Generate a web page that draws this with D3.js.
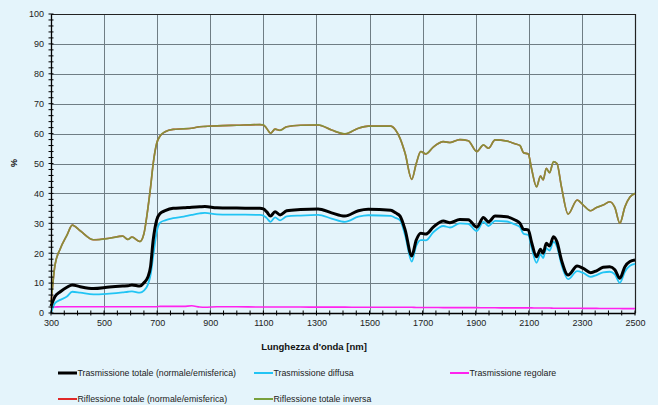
<!DOCTYPE html>
<html>
<head>
<meta charset="utf-8">
<script src="https://cdn.jsdelivr.net/npm/d3@7/dist/d3.min.js"></script>
<style>
  html, body { margin: 0; padding: 0; background: #e4f4fb; }
  svg { display: block; font-family: "Liberation Sans", Arial, sans-serif; }
</style>
</head>
<body>
<svg id="chart" width="658" height="405"></svg>
<script>
// Wavelength sampling points (nm)
const wavelengths = [300, 315, 335, 360, 380, 410, 460, 520, 570, 590, 605, 635, 650, 665, 675, 685, 698, 711, 730, 760, 800, 830, 860, 880, 925, 1000, 1087, 1100, 1112, 1127, 1144, 1163, 1188, 1240, 1306, 1357, 1407, 1458, 1495, 1580, 1598, 1615, 1634, 1659, 1676, 1693, 1712, 1740, 1778, 1803, 1840, 1872, 1904, 1929, 1948, 1973, 2017, 2048, 2067, 2080, 2098, 2110, 2129, 2144, 2154, 2166, 2178, 2193, 2206, 2223, 2248, 2282, 2305, 2333, 2355, 2380, 2405, 2424, 2443, 2462, 2481, 2500];

// Trasmissione totale (normale/emisferica), %
const trasmTotale = [2.3, 5.5, 7.1, 8.6, 9.4, 8.8, 8.2, 8.7, 9.0, 9.1, 9.4, 9.0, 10.1, 12, 15.5, 24.4, 31.1, 33.3, 34.2, 35, 35.2, 35.4, 35.5, 35.6, 35.2, 35.1, 35, 34.8, 33.9, 32.4, 33.9, 32.8, 34.2, 34.6, 34.8, 33.5, 32.4, 34.2, 34.7, 34.4, 33.5, 32.4, 27.8, 19.1, 24.4, 26.7, 26.4, 28.7, 30.8, 30.2, 31.3, 31.2, 28.7, 31.9, 30.5, 32.4, 32.2, 31.1, 30, 28, 27.8, 23.8, 18.8, 21.3, 20, 23.3, 22.4, 25.5, 23.8, 17.7, 12.7, 15.7, 14.9, 13.5, 14.1, 15.3, 15.5, 14.5, 11.6, 15.5, 17.2, 17.7];

// Trasmissione diffusa, %
const trasmDiffusa = [0, 3.3, 4.4, 5.5, 7.1, 6.8, 6.2, 6.5, 6.9, 7.1, 7.2, 6.8, 7.5, 9.5, 12.7, 19, 27, 30.2, 31, 31.7, 32.2, 32.8, 33.3, 33.5, 33, 32.9, 32.8, 32.6, 31.8, 30.5, 32, 31, 32.3, 32.6, 32.8, 31.6, 30.5, 32.2, 32.7, 32.5, 31.8, 31, 26, 17.2, 22.5, 24.4, 24.3, 27, 29.1, 28.6, 30, 29.8, 27.4, 30.5, 29.1, 30.8, 30.6, 29.6, 28.7, 26.5, 26.1, 22, 16.8, 19.6, 18.4, 21.7, 20.9, 23.8, 22.2, 16.2, 11.3, 14, 13.4, 12.1, 12.7, 13.6, 13.8, 12.9, 10.1, 13.8, 15.8, 16.4];

// Trasmissione regolare, %
const trasmRegolare = [2.0, 2.0, 2.1, 2.1, 2.1, 2.1, 2.1, 2.1, 2.1, 2.1, 2.1, 2.1, 2.1, 2.1, 2.1, 2.1, 2.1, 2.2, 2.2, 2.2, 2.2, 2.4, 2.0, 1.9, 2.1, 2.1, 2.0, 2.0, 2.0, 2.0, 2.0, 2.0, 2.0, 2.0, 1.95, 1.95, 1.95, 1.9, 1.9, 1.9, 1.9, 1.9, 1.9, 1.9, 1.85, 1.85, 1.85, 1.85, 1.8, 1.8, 1.8, 1.8, 1.8, 1.75, 1.75, 1.75, 1.7, 1.7, 1.7, 1.7, 1.7, 1.7, 1.65, 1.65, 1.65, 1.65, 1.65, 1.6, 1.6, 1.6, 1.6, 1.6, 1.55, 1.55, 1.55, 1.5, 1.5, 1.5, 1.5, 1.45, 1.45, 1.45];

// Riflessione totale (normale/emisferica), %
const riflTotale = [3, 16, 21.5, 26, 29.4, 27.5, 24.5, 25, 25.7, 24.6, 25.4, 23.9, 26.5, 35, 42, 50, 56.7, 59.2, 60.6, 61.4, 61.6, 61.8, 62.3, 62.4, 62.6, 62.8, 63, 62.9, 61.8, 60.1, 61.5, 61.1, 62.3, 62.8, 62.9, 61.2, 59.9, 61.8, 62.5, 62.5, 61.2, 58.4, 53.4, 44.7, 50, 54, 53.2, 55.5, 57.3, 57, 58, 57.6, 54, 56.2, 55.1, 57.9, 57.5, 56.6, 56, 53.6, 53.2, 48.4, 42.2, 45.8, 44.5, 48.4, 46.9, 50.6, 50, 42.2, 33.1, 37.8, 36.1, 34.2, 35.3, 36.1, 37.2, 35.3, 30, 35.5, 38.8, 40];

// Riflessione totale inversa, %
const riflInversa = [3, 16, 21.5, 26, 29.4, 27.5, 24.5, 25, 25.7, 24.6, 25.4, 23.9, 26.5, 35, 42, 50, 56.7, 59.2, 60.6, 61.4, 61.6, 61.8, 62.3, 62.4, 62.6, 62.8, 63, 62.9, 61.8, 60.1, 61.5, 61.1, 62.3, 62.8, 62.9, 61.2, 59.9, 61.8, 62.5, 62.5, 61.2, 58.4, 53.4, 44.7, 50, 54, 53.2, 55.5, 57.3, 57, 58, 57.6, 54, 56.2, 55.1, 57.9, 57.5, 56.6, 56, 53.6, 53.2, 48.4, 42.2, 45.8, 44.5, 48.4, 46.9, 50.6, 50, 42.2, 33.1, 37.8, 36.1, 34.2, 35.3, 36.1, 37.2, 35.3, 30, 35.5, 38.8, 40];

const xTickValues = [300, 500, 700, 900, 1100, 1300, 1500, 1700, 1900, 2100, 2300, 2500];
const yTickValues = [0, 10, 20, 30, 40, 50, 60, 70, 80, 90, 100];

const seriesNames = ["Trasmissione totale (normale/emisferica)", "Trasmissione diffusa", "Trasmissione regolare", "Riflessione totale (normale/emisferica)", "Riflessione totale inversa"];

const series = [
  { name: seriesNames[2], values: trasmRegolare, color: "#ff22ee", width: 1.6, opacity: 1 },
  { name: seriesNames[1], values: trasmDiffusa, color: "#22c4f4", width: 1.8, opacity: 1 },
  { name: seriesNames[0], values: trasmTotale, color: "#000000", width: 3, opacity: 1 },
  { name: seriesNames[3], values: riflTotale, color: "#e02828", width: 1.6, opacity: 1 },
  { name: seriesNames[4], values: riflInversa, color: "#78a03c", width: 1.7, opacity: 0.86 }
];

const svg = d3.select("#chart");
const margin = { left: 51, right: 23, top: 14, bottom: 92 };
const W = 658, H = 405;

const x = d3.scaleLinear().domain([300, 2500]).range([margin.left, W - margin.right]);
const y = d3.scaleLinear().domain([0, 100]).range([H - margin.bottom, margin.top]);

// Gridlines
const grid = svg.append("g");
grid.selectAll("line.h").data(yTickValues.slice(1, -1)).join("line")
  .attr("x1", x(300)).attr("x2", x(2500))
  .attr("y1", d => Math.round(y(d)) + 0.5).attr("y2", d => Math.round(y(d)) + 0.5)
  .attr("stroke", "#6f7d84").attr("stroke-width", 1);
grid.selectAll("line.v").data(xTickValues.slice(1, -1)).join("line")
  .attr("y1", y(0)).attr("y2", y(100))
  .attr("x1", d => Math.round(x(d)) + 0.5).attr("x2", d => Math.round(x(d)) + 0.5)
  .attr("stroke", "#6f7d84").attr("stroke-width", 1);

// Plot frame (top and right)
svg.append("path")
  .attr("d", `M${x(300)},${Math.round(y(100)) + 0.5}H${Math.round(x(2500)) + 0.5}V${y(0)}`)
  .attr("fill", "none").attr("stroke", "#222").attr("stroke-width", 1.2);

// Curves
const line = d3.line()
  .x((d, i) => x(wavelengths[i]))
  .y(d => y(d))
  .curve(d3.curveMonotoneX);

svg.append("g").selectAll("path").data(series).join("path")
  .attr("d", d => line(d.values))
  .attr("fill", "none")
  .attr("stroke", d => d.color)
  .attr("stroke-width", d => d.width)
  .attr("stroke-opacity", d => d.opacity)
  .attr("stroke-linejoin", "round");

// Y axis
const yAxis = d3.axisLeft(y).tickValues(yTickValues).tickSize(0).tickPadding(7);
const gy = svg.append("g").attr("transform", `translate(${x(300)},0)`).call(yAxis);
gy.select(".domain").attr("stroke", "#000").attr("stroke-width", 1.3);
gy.selectAll("text").attr("font-size", 9).attr("fill", "#222").attr("font-family", "Liberation Sans, Arial, sans-serif");
svg.append("g").selectAll("line").data(d3.range(0, 101, 2)).join("line")
  .attr("x1", x(300) - 2.5).attr("x2", x(300) + 2.5)
  .attr("y1", d => y(d)).attr("y2", d => y(d))
  .attr("stroke", "#000").attr("stroke-width", 1);

// X axis
const xAxis = d3.axisBottom(x).tickValues(xTickValues).tickSize(0).tickPadding(7).tickFormat(d3.format("d"));
const gx = svg.append("g").attr("transform", `translate(0,${y(0)})`).call(xAxis);
gx.select(".domain").attr("stroke", "#000").attr("stroke-width", 1.3);
gx.selectAll("text").attr("font-size", 9).attr("fill", "#222").attr("font-family", "Liberation Sans, Arial, sans-serif");
svg.append("g").selectAll("line").data(d3.range(300, 2501, 50)).join("line")
  .attr("x1", d => x(d)).attr("x2", d => x(d))
  .attr("y1", y(0) - 2.5).attr("y2", y(0) + 2.5)
  .attr("stroke", "#000").attr("stroke-width", 1);

// Axis titles
svg.append("text")
  .attr("x", 314).attr("y", 350)
  .attr("text-anchor", "middle")
  .attr("font-size", 9.5).attr("font-weight", "bold").attr("fill", "#111")
  .text("Lunghezza d'onda [nm]");
svg.append("text")
  .attr("transform", "translate(17,163) rotate(-90)")
  .attr("text-anchor", "middle")
  .attr("font-size", 9).attr("font-weight", "bold").attr("fill", "#111")
  .text("%");

// Legend
const legendItems = [
  { name: seriesNames[0], color: "#000000", width: 3, lx: 58, ly: 373 },
  { name: seriesNames[1], color: "#22c4f4", width: 2, lx: 254, ly: 373 },
  { name: seriesNames[2], color: "#ff22ee", width: 2, lx: 450, ly: 373 },
  { name: seriesNames[3], color: "#e02828", width: 2, lx: 58, ly: 399 },
  { name: seriesNames[4], color: "#78a03c", width: 2, lx: 254, ly: 399 }
];
const lg = svg.append("g").selectAll("g").data(legendItems).join("g")
  .attr("transform", d => `translate(${d.lx},${d.ly})`);
lg.append("line").attr("x1", 0).attr("x2", 19).attr("y1", 0).attr("y2", 0)
  .attr("stroke", d => d.color).attr("stroke-width", d => d.width);
lg.append("text").attr("x", 19.5).attr("y", 3.2)
  .attr("font-size", 8.8).attr("fill", "#222")
  .text(d => d.name);
</script>
</body>
</html>
